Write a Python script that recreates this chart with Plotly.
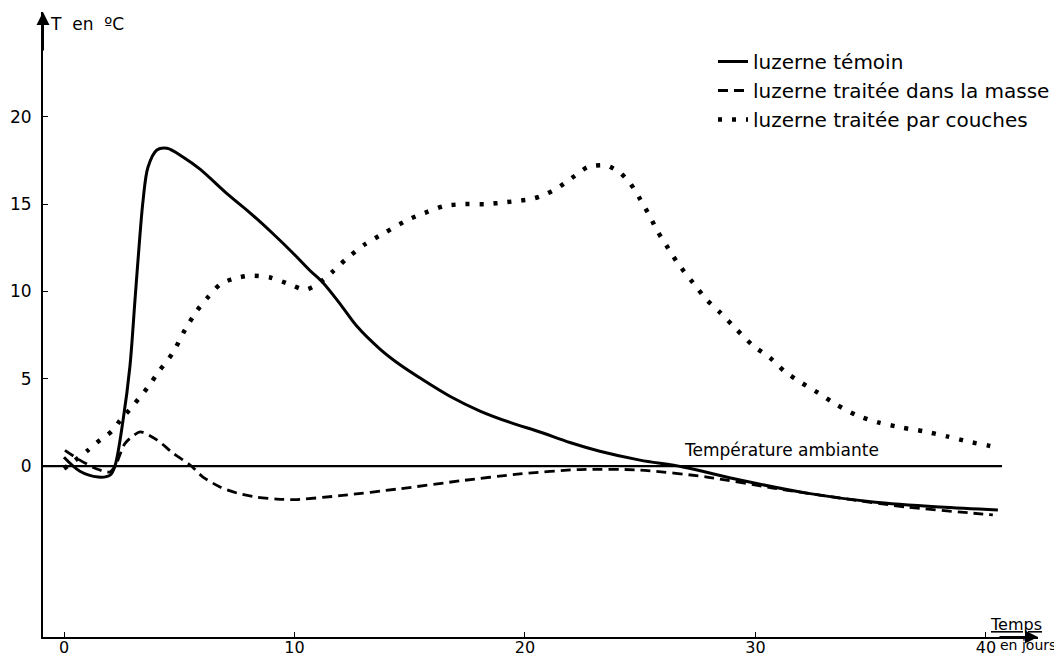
import plotly.graph_objects as go

# ---- data (days, °C) ----
days_temoin = [0.0, 0.69, 1.48, 2.0, 2.21, 2.56, 2.86, 3.08, 3.30, 3.43, 3.64, 4.03, 4.47, 5.16,
               5.90, 7.07, 8.07, 9.07, 9.93, 10.67, 11.24, 11.97, 12.71, 13.71, 14.58, 15.44,
               16.74, 18.05, 19.35, 20.65, 21.95, 23.25, 24.99, 26.85, 29.33, 32.23, 35.10,
               38.0, 40.52]
temp_temoin = [0.5, -0.3, -0.63, -0.52, 0.0, 2.6, 5.7, 9.5, 13.3, 15.2, 17.1, 18.1, 18.2, 17.7,
               17.0, 15.6, 14.5, 13.3, 12.2, 11.2, 10.5, 9.3, 8.0, 6.7, 5.8, 5.05,
               4.0, 3.15, 2.5, 1.95, 1.35, 0.85, 0.34, -0.05, -0.8, -1.55, -2.06,
               -2.35, -2.52]

days_masse = [0.04, 0.69, 1.43, 2.0, 2.26, 2.65, 3.30, 4.03, 4.73, 5.47, 6.03, 6.77, 7.51, 8.37,
              9.24, 10.02, 11.97, 14.58, 17.18, 19.78, 22.39, 24.99, 27.9, 30.76, 33.67, 36.57,
              39.44, 40.3]
temp_masse = [0.9, 0.34, -0.17, -0.34, 0.1, 1.3, 1.95, 1.5, 0.74, 0.06, -0.63, -1.2, -1.55, -1.78,
              -1.89, -1.92, -1.7, -1.3, -0.85, -0.45, -0.2, -0.23, -0.63, -1.26, -1.83, -2.35,
              -2.7, -2.8]

days_couches = [0.0, 0.61, 1.0, 1.43, 2.08, 2.43, 2.99, 3.60, 4.16, 4.73, 5.25, 5.77, 6.20, 6.77,
                7.29, 8.07, 8.94, 9.80, 10.46, 10.98, 11.63, 12.28, 13.06, 13.84, 14.92, 15.66,
                16.53, 17.40, 18.35, 19.13, 19.78, 20.30, 20.78, 21.39, 22.04, 22.69, 23.04,
                23.56, 24.12, 24.56, 24.99, 25.42, 25.77, 26.20, 26.64, 27.29, 27.90, 28.46,
                29.20, 29.89, 30.63, 31.28, 32.02, 32.71, 33.54, 34.40, 35.31, 36.36, 37.27,
                38.31, 39.22, 40.17, 40.61]
temp_couches = [-0.15, 0.46, 0.86, 1.35, 2.0, 2.6, 3.45, 4.45, 5.5, 6.5, 7.8, 8.9, 9.6, 10.4,
                10.7, 10.9, 10.8, 10.4, 10.1, 10.4, 11.1, 11.9, 12.7, 13.3, 14.1, 14.5,
                14.9, 15.0, 15.0, 15.1, 15.2, 15.3, 15.5, 15.9, 16.5, 17.1, 17.2,
                17.2, 16.8, 16.2, 15.3, 14.3, 13.4, 12.5, 11.6, 10.5, 9.5, 8.8,
                7.8, 6.9, 6.2, 5.4, 4.75, 4.2, 3.5, 2.9, 2.5, 2.2, 2.0,
                1.7, 1.4, 1.15, 1.0]

ambient_temp = 0.0
ambient_end_day = 40.7

x_ticks = [0, 10, 20, 30, 40]
y_ticks = [0, 5, 10, 15, 20]
x_range = [-0.911, 42.26]
y_range = [-9.79, 26.0]

names = ["luzerne témoin", "luzerne traitée dans la masse", "luzerne traitée par couches"]

FONT = "DejaVu Sans"
OFF = 8  # page body margin
W, H = 1062 - OFF, 657 - OFF
ML, MR, MT, MB = 43 - OFF, 24, 12 - OFF, 20
PW, PH = W - ML - MR, H - MT - MB


def px_to_paper(px, py):
    # window pixel -> paper coordinates
    return (px - OFF - ML) / PW, (H - MB - (py - OFF)) / PH


fig = go.Figure()
fig.add_trace(go.Scatter(x=days_temoin, y=temp_temoin, mode="lines", name=names[0],
                         line=dict(color="black", width=3, shape="spline", smoothing=0.9)))
fig.add_trace(go.Scatter(x=days_masse, y=temp_masse, mode="lines", name=names[1],
                         line=dict(color="black", width=2.8, dash="10px,6px", shape="spline", smoothing=0.7)))
fig.add_trace(go.Scatter(x=days_couches, y=temp_couches, mode="lines", name=names[2],
                         line=dict(color="black", width=4.5, dash="4px,10px", shape="spline", smoothing=0.7)))

# ambient temperature reference line
fig.add_shape(type="line", xref="x", yref="y", x0=x_range[0], x1=ambient_end_day,
              y0=ambient_temp, y1=ambient_temp, line=dict(color="black", width=2.2))

fig.add_annotation(x=26.8, y=ambient_temp, xref="x", yref="y", text="Température ambiante",
                   showarrow=False, xanchor="left", yanchor="bottom", yshift=4,
                   font=dict(family=FONT, size=17, color="black"))

# axis arrows
fig.add_annotation(x=0, y=1, xref="paper", yref="paper", ax=0, ay=40, text="",
                   showarrow=True, arrowhead=2, arrowsize=1.3, arrowwidth=2, arrowcolor="black")
fig.add_annotation(x=1, y=0, xref="paper", yref="paper", ax=-40, ay=0, text="",
                   showarrow=True, arrowhead=2, arrowsize=1.3, arrowwidth=2, arrowcolor="black")

# axis titles
tx, ty = px_to_paper(48, 24)
fig.add_annotation(x=tx, y=ty, xref="paper", yref="paper", text="T\u00a0 en\u00a0 ºC",
                   showarrow=False, xanchor="left", yanchor="middle",
                   font=dict(family=FONT, size=17, color="black"))
tx, ty = px_to_paper(1016, 624)
fig.add_annotation(x=tx, y=ty, xref="paper", yref="paper", text="<u>Temps</u>",
                   showarrow=False, xanchor="center", yanchor="middle",
                   font=dict(family=FONT, size=16, color="black"))
tx, ty = px_to_paper(1058, 645)
fig.add_annotation(x=tx, y=ty, xref="paper", yref="paper", text="en jours",
                   showarrow=False, xanchor="right", yanchor="middle",
                   font=dict(family=FONT, size=14, color="black"))

lx, ly = px_to_paper(713, 42)
fig.update_layout(
    width=W, height=H,
    margin=dict(l=ML, r=MR, t=MT, b=MB, autoexpand=False),
    paper_bgcolor="white", plot_bgcolor="white",
    font=dict(family=FONT, size=17, color="black"),
    legend=dict(x=lx, y=ly, xanchor="left", yanchor="top",
                font=dict(family=FONT, size=20, color="black"),
                bgcolor="rgba(0,0,0,0)", itemwidth=30),
    showlegend=True,
)

fig.update_xaxes(range=x_range, tickvals=x_ticks, ticktext=[str(v) for v in x_ticks],
                 showline=True, linecolor="black", linewidth=2, ticks="inside", ticklen=5,
                 tickcolor="black", showgrid=False, zeroline=False, automargin=False,
                 ticklabelstandoff=-5,
                 tickfont=dict(family=FONT, size=16, color="black"))
fig.update_yaxes(range=y_range, tickvals=y_ticks, ticktext=[str(v) for v in y_ticks],
                 showline=True, linecolor="black", linewidth=2, ticks="inside", ticklen=5,
                 tickcolor="black", showgrid=False, zeroline=False, ticklabelstandoff=6,
                 automargin=False, tickfont=dict(family=FONT, size=17, color="black"))

fig.write_html("out.html")
